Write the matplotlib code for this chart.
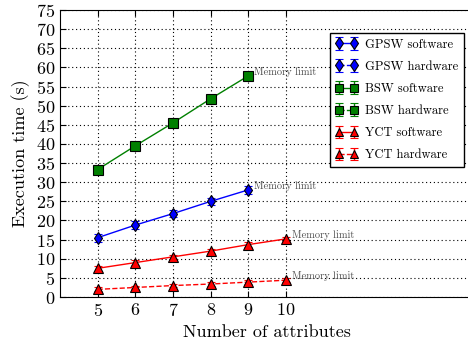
import numpy as np
import matplotlib
matplotlib.use("Agg")
import matplotlib.pyplot as plt

plt.rcParams['font.family'] = 'serif'
plt.rcParams['font.serif'] = ['cmr10', 'DejaVu Serif']
plt.rcParams['axes.formatter.use_mathtext'] = True
plt.rcParams['mathtext.fontset'] = 'cm'

# execution times per number of attributes
attrs_gpsw = [5, 6, 7, 8, 9]
gpsw_sw = [15.5, 18.8, 21.8, 25.0, 28.0]
gpsw_sw_err = [1.0, 1.0, 1.0, 1.0, 1.0]

attrs_bsw = [5, 6, 7, 8, 9]
bsw_sw = [33.3, 39.5, 45.5, 51.8, 57.8]
bsw_sw_err = [0.8, 0.8, 0.8, 0.8, 0.8]

attrs_yct = [5, 6, 7, 8, 9, 10]
yct_sw = [7.5, 9.0, 10.5, 12.0, 13.7, 15.2]
yct_sw_err = [0.6, 0.6, 0.6, 0.6, 0.6, 0.6]
yct_hw = [2.0, 2.5, 3.0, 3.4, 3.9, 4.4]
yct_hw_err = [0.5, 0.5, 0.5, 0.5, 0.5, 0.5]

fig = plt.figure(figsize=(4.68, 3.43), dpi=100)
ax = fig.add_axes([0.128, 0.134, 0.886, 0.837])

style = dict(markeredgecolor='black', markeredgewidth=0.8, markersize=6.5,
             capsize=3, elinewidth=1.0, linewidth=1.0)

ax.errorbar(attrs_gpsw, gpsw_sw, yerr=gpsw_sw_err, color='blue', fmt='-d',
            label='GPSW software', **style)
ax.errorbar([np.nan], [np.nan], yerr=[np.nan], color='blue', fmt='--d',
            label='GPSW hardware', **style)
ax.errorbar(attrs_bsw, bsw_sw, yerr=bsw_sw_err, color='green', fmt='-s',
            label='BSW software', **style)
ax.errorbar([np.nan], [np.nan], yerr=[np.nan], color='green', fmt='--s',
            label='BSW hardware', **style)
ax.errorbar(attrs_yct, yct_sw, yerr=yct_sw_err, color='red', fmt='-^',
            label='YCT software', **style)
ax.errorbar(attrs_yct, yct_hw, yerr=yct_hw_err, color='red', fmt='--^',
            label='YCT hardware', **style)

# mark where each series runs out of memory
for xs, ys in [(attrs_gpsw, gpsw_sw), (attrs_bsw, bsw_sw),
               (attrs_yct, yct_sw), (attrs_yct, yct_hw)]:
    ax.annotate('Memory limit', (xs[-1], ys[-1]), xytext=(4, 3),
                textcoords='offset points', ha='left', va='center',
                fontsize=7.5, color='#505050')

ax.set_xlim(4, 15)
ax.set_ylim(0, 75)
ax.set_xticks(attrs_yct)
ax.set_yticks(np.arange(0, 76, 5))
ax.tick_params(direction='in', labelsize=13, length=4, top=True, right=True)
ax.grid(True, color='black', linestyle=(0, (1, 2.5)), linewidth=0.8)
ax.spines['right'].set_visible(False)

ax.set_xlabel('Number of attributes', fontsize=13)
ax.set_ylabel('Execution time (s)', fontsize=13)

leg = ax.legend(loc='upper left', bbox_to_anchor=(0.651, 0.92), numpoints=2,
                fontsize=9, fancybox=False, framealpha=1, edgecolor='black',
                borderaxespad=0, handlelength=1.8, labelspacing=0.8,
                markerscale=0.95, handletextpad=0.6, borderpad=0.45)
leg.get_frame().set_linewidth(1.0)

fig.savefig('out.png', dpi=100)
